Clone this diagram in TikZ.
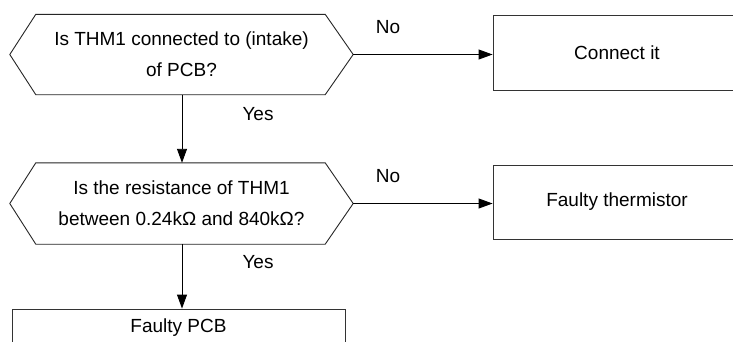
\documentclass[tikz,border=0pt]{standalone}
\usepackage{fontspec}
\setmainfont{Liberation Sans}
\usetikzlibrary{arrows.meta,calc}
\begin{document}
\begin{tikzpicture}[x=1pt,y=-1pt,
  every node/.style={font=\fontsize{19}{23}\selectfont},
  hexnode/.style={rectangle,minimum width=343pt,inner sep=0pt,align=center,
    font=\fontsize{19}{31}\selectfont},
  boxnode/.style={draw=black!80,line width=0.9pt,rectangle,inner sep=0pt},
  lab/.style={inner sep=0pt},
  conn/.style={line width=0.9pt,-{Triangle[length=14pt,width=10pt]}},
  hexline/.style={line width=0.9pt,draw=black!85}]
\useasboundingbox (0,0) rectangle (733,341);
\fill[white] (0,0) rectangle (733,341);
\clip (0,0) rectangle (733,341);

% decision 1
\node[hexnode,minimum height=80pt] (q1) at (181.5,54.5) {Is THM1 connected to (intake)\\of PCB?};
\draw[hexline] (q1.west) -- ([xshift=26pt]q1.north west) -- ([xshift=-28pt]q1.north east)
  -- (q1.east) -- ([xshift=-28pt]q1.south east) -- ([xshift=26pt]q1.south west) -- cycle;

% decision 2
\node[hexnode,minimum height=81pt] (q2) at (181.5,203.5) {Is the resistance of THM1\\between 0.24kΩ and 840kΩ?};
\draw[hexline] (q2.west) -- ([xshift=26pt]q2.north west) -- ([xshift=-28pt]q2.north east)
  -- (q2.east) -- ([xshift=-28pt]q2.south east) -- ([xshift=26pt]q2.south west) -- cycle;

% result boxes
\node[boxnode,minimum width=248pt,minimum height=75pt] (a1) at (617,52.5) {Connect it};
\node[boxnode,minimum width=248pt,minimum height=74pt] (a2) at (617,202) {Faulty thermistor};
\node[boxnode,minimum width=333pt,minimum height=38pt] (a3) at (178.5,328) {Faulty PCB};

% connectors
\draw[conn] (q1.east) -- (q1.east -| a1.west);
\draw[conn] (q2.east) -- (q2.east -| a2.west);
\draw[conn] ([xshift=0.5pt]q1.south) -- ([xshift=0.5pt]q1.south |- q2.north);
\draw[conn] ([xshift=0.5pt]q2.south) -- ([xshift=0.5pt]q2.south |- a3.north);

% labels
\node[lab] (no1) at (388,27) {No};
\node[lab] (yes1) at (258,114) {Yes};
\node[lab] (no2) at (388,176) {No};
\node[lab] (yes2) at (258,262) {Yes};
\end{tikzpicture}
\end{document}
